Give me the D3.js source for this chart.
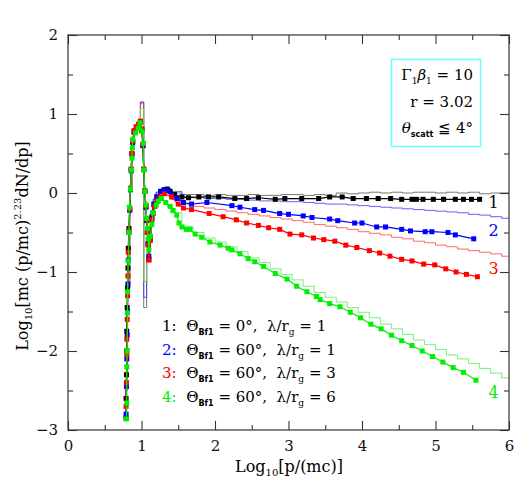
<!DOCTYPE html>
<html>
<head>
<meta charset="utf-8">
<script src="https://cdn.jsdelivr.net/npm/d3@7"></script>
<style>
  body { margin: 0; background: #fff; }
  svg { display: block; font-family: "DejaVu Serif", "Liberation Serif", serif; }
</style>
</head>
<body>
<div id="chart"></div>
<script>
// histogram bin edges (log10 p/mc), shared by all four runs
const histEdges = [0.78, 0.81, 0.84, 0.87, 0.90, 0.93, 0.96, 0.985, 1.03, 1.07, 1.10, 1.13, 1.16, 1.20, 1.25, 1.30, 1.35, 1.40,
  1.55, 1.70, 1.85, 2.00, 2.15, 2.30, 2.45, 2.60, 2.75, 2.90, 3.05, 3.20, 3.35, 3.50, 3.65, 3.80, 3.95,
  4.10, 4.25, 4.40, 4.55, 4.70, 4.85, 5.00, 5.15, 5.30, 5.45, 5.60, 5.75, 5.90, 6.05];

const hist1 = [-2.5, -1.2, 0.1, 0.6, 0.78, 0.84, 0.88, 1.15, -1.45, -0.8, -0.45, -0.22, -0.08, 0.01, 0.04, 0.06, 0.05,
  0.02, -0.02, -0.02, -0.03, -0.02, -0.03, -0.03, -0.02, -0.03, -0.03, -0.02, -0.02, -0.03, -0.02, -0.03, 0.0,
  -0.01, 0.0, 0.01, 0.0, 0.01, 0.0, 0.01, 0.01, 0.0, 0.01, 0.0, 0.01, -0.01, 0.0, 0.0];
const hist2 = [-2.5, -1.2, 0.1, 0.6, 0.78, 0.84, 0.88, 1.15, -1.32, -0.8, -0.45, -0.22, -0.08, 0.01, 0.05, 0.07, 0.06,
  0.0, -0.05, -0.06, -0.07, -0.07, -0.08, -0.08, -0.09, -0.10, -0.10, -0.11, -0.11, -0.12, -0.13, -0.14, -0.14,
  -0.15, -0.16, -0.17, -0.18, -0.19, -0.20, -0.21, -0.22, -0.23, -0.24, -0.25, -0.27, -0.28, -0.30, -0.32];
const hist3 = [-2.5, -1.2, 0.1, 0.6, 0.78, 0.84, 0.88, 1.13, -1.12, -0.85, -0.5, -0.28, -0.12, -0.03, 0.02, 0.03, 0.01,
  -0.08, -0.14, -0.17, -0.19, -0.21, -0.23, -0.25, -0.27, -0.29, -0.31, -0.33, -0.35, -0.37, -0.40, -0.42, -0.44,
  -0.46, -0.49, -0.51, -0.53, -0.56, -0.58, -0.61, -0.63, -0.66, -0.68, -0.71, -0.73, -0.75, -0.77, -0.80];
const hist4 = [-2.5, -1.2, 0.1, 0.6, 0.76, 0.82, 0.86, 1.07, -1.12, -0.75, -0.5, -0.3, -0.18, -0.1, -0.06, -0.1, -0.18,
  -0.25, -0.42, -0.50, -0.57, -0.62, -0.68, -0.74, -0.82, -0.88, -0.96, -1.03, -1.10, -1.18, -1.26, -1.32, -1.38,
  -1.45, -1.51, -1.58, -1.66, -1.72, -1.79, -1.86, -1.92, -1.98, -2.05, -2.10, -2.16, -2.22, -2.28, -2.34];

// binned points with markers [log10 p/mc, value]
const pts1 = [[0.79,-2.85],[0.79,-2.6],[0.795,-2.3],[0.80,-2.0],[0.80,-1.75],[0.805,-1.45],[0.81,-1.2],[0.815,-0.95],
  [0.82,-0.7],[0.83,-0.45],[0.84,-0.2],[0.85,0.05],[0.86,0.3],[0.87,0.5],[0.88,0.65],[0.90,0.78],[0.93,0.83],[0.96,0.86],
  [0.985,0.90],[1.005,0.80],[1.02,0.6],[1.03,0.3],[1.045,0.02],[1.06,-0.18],[1.07,-0.35],[1.08,-0.5],[1.09,-0.65],[1.10,-0.84],
  [1.12,-0.58],[1.14,-0.32],[1.17,-0.15],[1.21,-0.05],[1.26,0.02],[1.31,0.04],[1.35,0.05],[1.39,0.02],[1.45,-0.02],
  [1.55,-0.05],[1.64,-0.06],[1.78,-0.05],[1.91,-0.05],[2.05,-0.05],[2.27,-0.07],[2.43,-0.07],[2.59,-0.06],[2.82,-0.08],
  [2.95,-0.07],[3.18,-0.07],[3.41,-0.07],[3.56,-0.05],[3.73,-0.05],[3.88,-0.07],[4.06,-0.07],[4.22,-0.07],[4.39,-0.07],
  [4.54,-0.08],[4.68,-0.08],[4.74,-0.08],[4.83,-0.08],[4.97,-0.08],[5.11,-0.08],[5.27,-0.08],[5.38,-0.08],[5.49,-0.08],[5.60,-0.08]];
const pts2 = [[0.79,-2.8],[0.795,-2.45],[0.80,-2.1],[0.805,-1.8],[0.81,-1.5],[0.815,-1.15],[0.82,-0.85],[0.83,-0.5],
  [0.84,-0.22],[0.85,0.04],[0.86,0.28],[0.87,0.48],[0.88,0.64],[0.90,0.77],[0.93,0.83],[0.96,0.86],[0.985,0.90],
  [1.005,0.79],[1.02,0.6],[1.03,0.3],[1.045,0.02],[1.06,-0.17],[1.07,-0.34],[1.08,-0.5],[1.09,-0.64],[1.10,-0.8],
  [1.12,-0.55],[1.14,-0.3],[1.17,-0.14],[1.21,-0.05],[1.26,0.02],[1.31,0.04],[1.36,0.03],[1.41,-0.03],[1.48,-0.07],
  [1.57,-0.12],[1.68,-0.14],[1.89,-0.12],[2.23,-0.16],[2.34,-0.18],[2.54,-0.21],[2.66,-0.22],[2.88,-0.26],[3.00,-0.27],
  [3.20,-0.29],[3.32,-0.31],[3.56,-0.33],[3.67,-0.35],[3.90,-0.38],[4.00,-0.38],[4.20,-0.43],[4.32,-0.43],[4.54,-0.46],
  [4.66,-0.48],[4.86,-0.49],[4.95,-0.49],[5.17,-0.50],[5.27,-0.53],[5.52,-0.58]];
const pts3 = [[0.79,-2.7],[0.795,-2.4],[0.80,-2.05],[0.80,-1.85],[0.805,-1.6],[0.81,-1.3],[0.815,-1.05],[0.82,-0.75],
  [0.83,-0.48],[0.84,-0.2],[0.85,0.06],[0.86,0.3],[0.87,0.5],[0.88,0.66],[0.90,0.79],[0.93,0.84],[0.96,0.87],[0.985,0.91],
  [1.005,0.81],[1.02,0.62],[1.03,0.3],[1.045,0.03],[1.06,-0.16],[1.07,-0.33],[1.08,-0.5],[1.09,-0.66],[1.10,-0.85],
  [1.12,-0.6],[1.14,-0.34],[1.16,-0.26],[1.18,-0.17],[1.21,-0.11],[1.25,-0.05],[1.31,-0.01],[1.41,-0.05],[1.50,-0.14],
  [1.57,-0.19],[1.68,-0.21],[1.92,-0.26],[2.11,-0.30],[2.29,-0.34],[2.43,-0.38],[2.59,-0.41],[2.73,-0.44],[2.88,-0.46],
  [3.02,-0.52],[3.18,-0.53],[3.34,-0.57],[3.48,-0.59],[3.63,-0.61],[3.78,-0.66],[3.93,-0.69],[4.10,-0.73],[4.24,-0.76],
  [4.38,-0.80],[4.54,-0.84],[4.68,-0.86],[4.84,-0.90],[4.99,-0.91],[5.14,-0.96],[5.28,-1.00],[5.42,-1.03],[5.57,-1.06]];
const pts4 = [[0.795,-2.86],[0.80,-2.66],[0.80,-2.2],[0.805,-2.0],[0.81,-1.52],[0.81,-1.25],[0.82,-0.86],[0.83,-0.5],
  [0.835,-0.18],[0.85,0.05],[0.865,0.29],[0.87,0.44],[0.875,0.57],[0.88,0.68],[0.92,0.76],[0.955,0.82],[0.98,0.89],
  [1.01,0.78],[1.025,0.63],[1.03,0.29],[1.045,0.02],[1.06,-0.15],[1.07,-0.32],[1.08,-0.45],[1.09,-0.58],[1.10,-0.72],
  [1.12,-0.55],[1.14,-0.40],[1.16,-0.25],[1.20,-0.15],[1.23,-0.10],[1.27,-0.07],[1.33,-0.12],[1.39,-0.17],[1.43,-0.22],
  [1.48,-0.28],[1.51,-0.38],[1.55,-0.43],[1.61,-0.46],[1.66,-0.46],[1.73,-0.52],[1.82,-0.56],[1.93,-0.62],[2.07,-0.66],
  [2.18,-0.70],[2.23,-0.72],[2.34,-0.77],[2.45,-0.83],[2.54,-0.87],[2.66,-0.93],[2.82,-1.02],[2.98,-1.09],[3.11,-1.18],
  [3.25,-1.25],[3.38,-1.31],[3.43,-1.35],[3.56,-1.40],[3.70,-1.44],[3.84,-1.51],[3.98,-1.58],[4.12,-1.66],[4.26,-1.72],
  [4.40,-1.80],[4.54,-1.87],[4.68,-1.93],[4.82,-2.00],[4.96,-2.07],[5.10,-2.14],[5.24,-2.21],[5.38,-2.27],[5.55,-2.37]];

const runColors = ["#000000", "#0000ff", "#ff0000", "#00ee00"];
const histColors = ["#555555", "#3a3aff", "#ff4444", "#55ee55"];
const runLabels = ["1", "2", "3", "4"];
const legendAngles = ["0°", "60°", "60°", "60°"];
const legendLambda = ["1", "1", "3", "6"];
const endLabelY = [-0.19, -0.54, -1.03, -2.6];
const xTicks = [0, 1, 2, 3, 4, 5, 6];
const yTicks = [-3, -2, -1, 0, 1, 2];

const width = 526, height = 481;
const svg = d3.select("#chart").append("svg").attr("width", width).attr("height", height);

const x = d3.scaleLinear().domain([0, 6]).range([68, 509]);
const y = d3.scaleLinear().domain([-3, 2]).range([430, 35]);

svg.append("clipPath").attr("id", "clip").append("rect")
  .attr("x", 68).attr("y", 35).attr("width", 441).attr("height", 395);

const plot = svg.append("g").attr("clip-path", "url(#clip)");
const hists = [hist1, hist2, hist3, hist4];
const pts = [pts1, pts2, pts3, pts4];

const stepLine = d3.line().x(d => x(d[0])).y(d => y(d[1])).curve(d3.curveStepAfter);
const ptLine = d3.line().x(d => x(d[0])).y(d => y(d[1]));

hists.forEach((h, i) => {
  const steps = h.map((v, k) => [histEdges[k], v]);
  steps.push([histEdges[h.length], h[h.length - 1]]);
  plot.append("path").attr("d", stepLine(steps))
    .attr("fill", "none").attr("stroke", histColors[i]).attr("stroke-width", 1).attr("stroke-opacity", 0.8);
});

pts.forEach((p, i) => {
  plot.append("path").attr("d", ptLine(p))
    .attr("fill", "none").attr("stroke", runColors[i]).attr("stroke-width", 1.2);
  plot.selectAll(".m" + i).data(p).enter().append("rect")
    .attr("x", d => x(d[0]) - 2.5).attr("y", d => y(d[1]) - 2.5)
    .attr("width", 5).attr("height", 5).attr("fill", runColors[i]);
});

// axes, ticks pointing inwards on all four sides
function addAxis(axis, tx, ty, vals, size, labels) {
  const g = svg.append("g").attr("transform", `translate(${tx},${ty})`)
    .call(axis.tickValues(vals).tickSize(-size).tickPadding(10)
      .tickFormat(labels ? d3.format("d") : ""));
  g.select(".domain").remove();
  g.selectAll("line").attr("stroke", "#333").attr("stroke-width", 1.1);
  g.selectAll("text").attr("font-family", "DejaVu Serif, Liberation Serif, serif").attr("font-size", 15).attr("fill", "#111");
  return g;
}
const halves = d3.range(0.5, 6, 1);
const yHalves = d3.range(-2.5, 2, 1);
addAxis(d3.axisBottom(x), 0, 430, xTicks, 9, true);
addAxis(d3.axisBottom(x), 0, 430, halves, 5, false);
addAxis(d3.axisTop(x), 0, 35, xTicks, 9, false);
addAxis(d3.axisTop(x), 0, 35, halves, 5, false);
addAxis(d3.axisLeft(y), 68, 0, yTicks, 9, true);
addAxis(d3.axisLeft(y), 68, 0, yHalves, 5, false);
addAxis(d3.axisRight(y), 509, 0, yTicks, 9, false);
addAxis(d3.axisRight(y), 509, 0, yHalves, 5, false);

svg.append("rect").attr("x", 68).attr("y", 35).attr("width", 441).attr("height", 395)
  .attr("fill", "none").attr("stroke", "#333").attr("stroke-width", 1.2);

// axis titles
const xt = svg.append("text").attr("x", 289).attr("y", 472).attr("text-anchor", "middle").attr("font-size", 16);
xt.append("tspan").text("Log");
xt.append("tspan").attr("font-size", 10).attr("dy", 4).text("10");
xt.append("tspan").attr("dy", -4).text("[p/(mc)]");

const yt = svg.append("text").attr("transform", "translate(28,246) rotate(-90)")
  .attr("text-anchor", "middle").attr("font-size", 16);
yt.append("tspan").text("Log");
yt.append("tspan").attr("font-size", 10).attr("dy", 4).text("10");
yt.append("tspan").attr("dy", -4).text("[mc (p/mc)");
yt.append("tspan").attr("font-size", 10).attr("dy", -7).text("2.23");
yt.append("tspan").attr("dy", 7).text("dN/dp]");

// end-of-curve run numbers
runLabels.forEach((t, i) => {
  svg.append("text").attr("x", x(5.72)).attr("y", y(endLabelY[i])).attr("font-size", 16)
    .attr("fill", runColors[i]).text(t);
});

// parameter box
svg.append("rect").attr("x", 391.5).attr("y", 59.5).attr("width", 89).attr("height", 87)
  .attr("fill", "#fff").attr("stroke", "#66ffff").attr("stroke-width", 1.5);
const l1 = svg.append("text").attr("x", 473).attr("y", 80).attr("text-anchor", "end").attr("font-size", 15);
l1.append("tspan").text("Γ");
l1.append("tspan").attr("font-size", 9).attr("dy", 4).text("1");
l1.append("tspan").attr("dy", -4).attr("font-style", "italic").text("β");
l1.append("tspan").attr("font-size", 9).attr("dy", 4).text("1");
l1.append("tspan").attr("dy", -4).text(" = 10");
svg.append("text").attr("x", 473).attr("y", 107).attr("text-anchor", "end").attr("font-size", 15).text("r = 3.02");
const l3 = svg.append("text").attr("x", 473).attr("y", 133).attr("text-anchor", "end").attr("font-size", 15);
l3.append("tspan").attr("font-style", "italic").text("θ");
l3.append("tspan").attr("font-size", 8).attr("font-weight", "bold").attr("font-family", "DejaVu Sans, sans-serif")
  .attr("dy", 4).text("scatt");
l3.append("tspan").attr("dy", -4).text(" ≦ 4°");

// legend
runLabels.forEach((t, i) => {
  const tx = svg.append("text").attr("x", 162).attr("y", 331 + i * 23.6).attr("font-size", 15)
    .attr("xml:space", "preserve").style("white-space", "pre");
  tx.append("tspan").attr("fill", runColors[i]).text(t + ":");
  tx.append("tspan").text("  Θ");
  tx.append("tspan").attr("font-size", 8).attr("font-weight", "bold").attr("font-family", "DejaVu Sans, sans-serif")
    .attr("dy", 4).text("Bf1");
  tx.append("tspan").attr("dy", -4).text(" = " + legendAngles[i] + ",  λ/r");
  tx.append("tspan").attr("font-size", 9).attr("dy", 4).text("g");
  tx.append("tspan").attr("dy", -4).text(" = " + legendLambda[i]);
});
</script>
</body>
</html>
